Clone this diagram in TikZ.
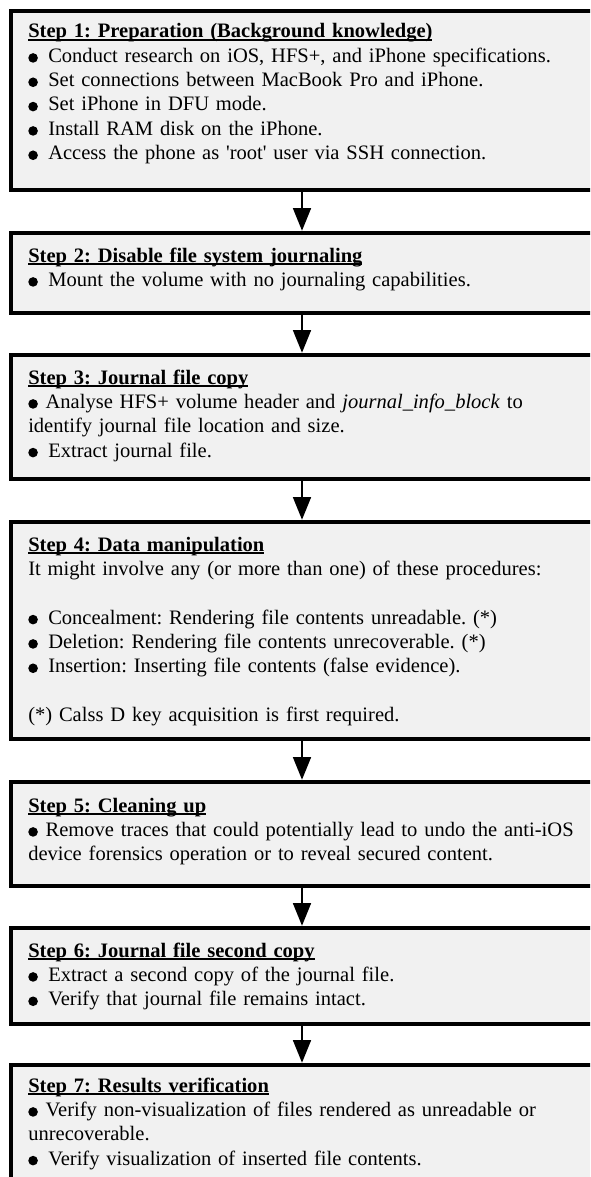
\documentclass[tikz,border=0pt]{standalone}
\usepackage{fontspec}
\setmainfont{Liberation Serif}
\usetikzlibrary{arrows.meta}
\definecolor{boxfill}{RGB}{241,241,241}
\newcommand{\bul}[1][15pt]{\makebox[#1][l]{\tikz[baseline=0pt,x=1pt,y=1pt]\fill (3.6,3.3) circle [radius=3.6];}}
\newcommand{\hd}[1]{\setbox0\hbox{\bfseries #1}\rlap{\rule[-2pt]{\wd0}{1pt}}\box0}
\begin{document}
\begin{tikzpicture}[x=0.75pt,y=-0.75pt,
  stepbox/.style={draw=black, line width=3.4pt, fill=boxfill, rectangle, anchor=north west,
    minimum width=456.75pt, inner sep=0pt, outer sep=0pt},
  txt/.style={anchor=base west, inner sep=0pt, text width=560pt, align=left,
    font=\fontsize{15.4pt}{18.25pt}\selectfont\frenchspacing},
  arr/.style={line width=1.3pt, shorten >=1.7pt, shorten <=1.7pt,
    -{Triangle[width=13.5pt,length=17pt]}}]
\useasboundingbox (0,0) rectangle (590,1177);
\clip (0,0) rectangle (590,1177);
% boxes
\node[stepbox, minimum height=134.25pt] (b1) at (11,11) {};
\node[stepbox, minimum height=60pt] (b2) at (11,233) {};
\node[stepbox, minimum height=93pt] (b3) at (11,355) {};
\node[stepbox, minimum height=162.75pt] (b4) at (11,522) {};
\node[stepbox, minimum height=78pt] (b5) at (11,782) {};
\node[stepbox, minimum height=72pt] (b6) at (11,928) {};
\node[stepbox, minimum height=108.75pt] (b7) at (11,1065) {};
% arrows
\coordinate (ax) at (302,0);
\draw[arr] (b1.south -| ax) -- (b2.north -| ax);
\draw[arr] (b2.south -| ax) -- (b3.north -| ax);
\draw[arr] (b3.south -| ax) -- (b4.north -| ax);
\draw[arr] (b4.south -| ax) -- (b5.north -| ax);
\draw[arr] (b5.south -| ax) -- (b6.north -| ax);
\draw[arr] (b6.south -| ax) -- (b7.north -| ax);
% texts
\node[txt] (t1) at (28,38) {\hd{Step 1: Preparation (Background knowledge)}\\
\bul Conduct research on iOS, HFS+, and iPhone specifications.\\
\bul Set connections between MacBook Pro and iPhone.\\
\bul Set iPhone in DFU mode.\\
\bul Install RAM disk on the iPhone.\\
\bul Access the phone as \textquotesingle root\textquotesingle{} user via SSH connection.};
\node[txt] (t2) at (28,262) {\hd{Step 2: Disable file system journaling}\\
\bul Mount the volume with no journaling capabilities.};
\node[txt] (t3) at (28,384) {\hd{Step 3: Journal file copy}\\
\bul[13pt]Analyse HFS+ volume header and \textit{journal\_info\_block} to\\
identify journal file location and size.\\
\bul Extract journal file.};
\node[txt] (t4) at (28,551) {\hd{Step 4: Data manipulation}\\
It might involve any (or more than one) of these procedures:\\[18.25pt]
\bul Concealment: Rendering file contents unreadable. (*)\\
\bul Deletion: Rendering file contents unrecoverable. (*)\\
\bul Insertion: Inserting file contents (false evidence).\\[18.25pt]
(*) Calss D key acquisition is first required.};
\node[txt] (t5) at (28,812) {\hd{Step 5: Cleaning up}\\
\bul[13pt]Remove traces that could potentially lead to undo the anti-iOS\\
device forensics operation or to reveal secured content.};
\node[txt] (t6) at (28,957) {\hd{Step 6: Journal file second copy}\\
\bul Extract a second copy of the journal file.\\
\bul Verify that journal file remains intact.};
\node[txt] (t7) at (28,1092) {\hd{Step 7: Results verification}\\
\bul[13pt]Verify non-visualization of files rendered as unreadable or\\
unrecoverable.\\
\bul Verify visualization of inserted file contents.};
\end{tikzpicture}
\end{document}
